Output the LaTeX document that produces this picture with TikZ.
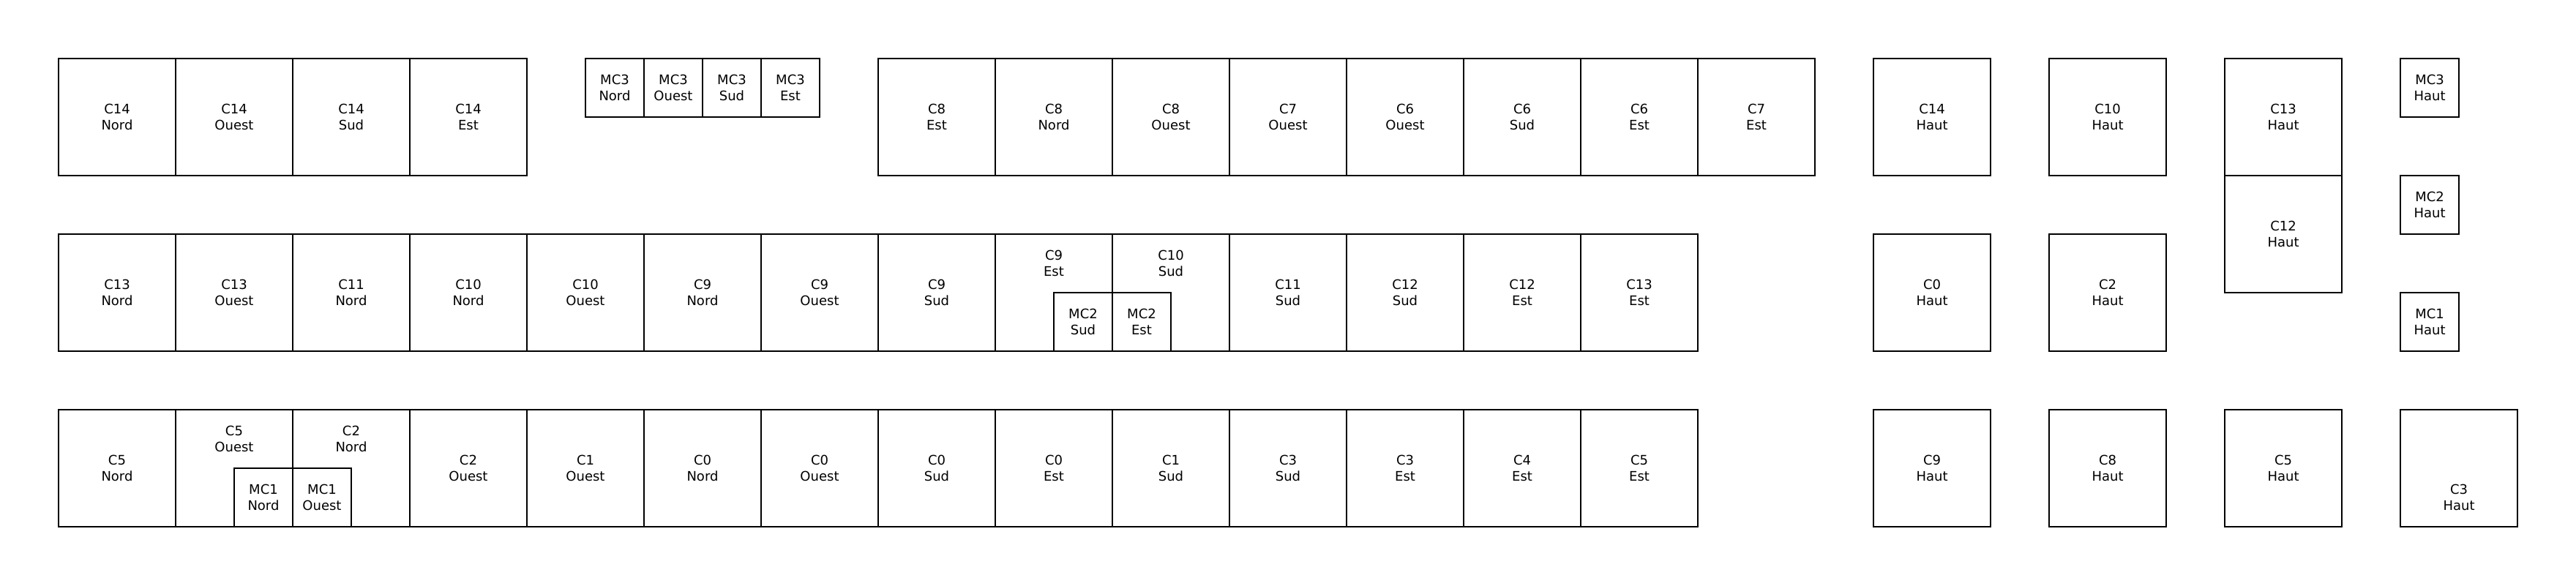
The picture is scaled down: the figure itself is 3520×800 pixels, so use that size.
\documentclass[tikz,border=0pt]{standalone}
\usepackage{fontspec}
\setmainfont{DejaVu Sans}
\newcommand{\lblfont}{\fontsize{9}{10.8}\selectfont}
\begin{document}
\begin{tikzpicture}[x=0.5pt,y=-0.5pt,
  big/.style={draw, line width=0.6pt, minimum width=80pt, minimum height=80pt, inner sep=0pt, align=center, font=\lblfont},
  small/.style={draw, line width=0.6pt, minimum width=40pt, minimum height=40pt, inner sep=0pt, align=center, font=\lblfont},
  tall/.style={draw, line width=0.6pt, minimum width=80pt, minimum height=80pt, inner sep=0pt},
  txt/.style={inner sep=0pt, align=center, font=\lblfont}]
\useasboundingbox (0,0) rectangle (3520,800);
% Row 1 left
\foreach \nm/\x/\t in {r1a/160/{C14\\Nord}, r1b/320/{C14\\Ouest}, r1c/480/{C14\\Sud}, r1d/640/{C14\\Est}}
  \node[big] (\nm) at (\x,160) {\t};
% MC3
\foreach \nm/\x/\t in {mca/840/{MC3\\Nord}, mcb/920/{MC3\\Ouest}, mcc/1000/{MC3\\Sud}, mcd/1080/{MC3\\Est}}
  \node[small] (\nm) at (\x,120) {\t};
% Row 1 right
\foreach \nm/\x/\t in {r1e/1280/{C8\\Est}, r1f/1440/{C8\\Nord}, r1g/1600/{C8\\Ouest}, r1h/1760/{C7\\Ouest}, r1i/1920/{C6\\Ouest}, r1j/2080/{C6\\Sud}, r1k/2240/{C6\\Est}, r1l/2400/{C7\\Est}}
  \node[big] (\nm) at (\x,160) {\t};
% Row 2
\foreach \nm/\x/\t in {r2a/160/{C13\\Nord}, r2b/320/{C13\\Ouest}, r2c/480/{C11\\Nord}, r2d/640/{C10\\Nord}, r2e/800/{C10\\Ouest}, r2f/960/{C9\\Nord}, r2g/1120/{C9\\Ouest}, r2h/1280/{C9\\Sud}, r2k/1760/{C11\\Sud}, r2l/1920/{C12\\Sud}, r2m/2080/{C12\\Est}, r2n/2240/{C13\\Est}}
  \node[big] (\nm) at (\x,400) {\t};
\node[tall] (r2i) at (1440,400) {};
\node[tall] (r2j) at (1600,400) {};
\node[txt] (r2it) at (1440,360) {C9\\Est};
\node[txt] (r2jt) at (1600,360) {C10\\Sud};
\node[small] (mc2s) at (1480,440) {MC2\\Sud};
\node[small] (mc2e) at (1560,440) {MC2\\Est};
% Row 3
\foreach \nm/\x/\t in {r3a/160/{C5\\Nord}, r3d/640/{C2\\Ouest}, r3e/800/{C1\\Ouest}, r3f/960/{C0\\Nord}, r3g/1120/{C0\\Ouest}, r3h/1280/{C0\\Sud}, r3i/1440/{C0\\Est}, r3j/1600/{C1\\Sud}, r3k/1760/{C3\\Sud}, r3l/1920/{C3\\Est}, r3m/2080/{C4\\Est}, r3n/2240/{C5\\Est}}
  \node[big] (\nm) at (\x,640) {\t};
\node[tall] (r3b) at (320,640) {};
\node[tall] (r3c) at (480,640) {};
\node[txt] (r3bt) at (320,600) {C5\\Ouest};
\node[txt] (r3ct) at (480,600) {C2\\Nord};
\node[small] (mc1n) at (360,680) {MC1\\Nord};
\node[small] (mc1o) at (440,680) {MC1\\Ouest};
% Haut
\node[big] (h14) at (2640,160) {C14\\Haut};
\node[big] (h10) at (2880,160) {C10\\Haut};
\node[big] (h13) at (3120,160) {C13\\Haut};
\node[small] (hm3) at (3320,120) {MC3\\Haut};
\node[big] (h0) at (2640,400) {C0\\Haut};
\node[big] (h2) at (2880,400) {C2\\Haut};
\node[big] (h12) at (3120,320) {C12\\Haut};
\node[small] (hm2) at (3320,280) {MC2\\Haut};
\node[small] (hm1) at (3320,440) {MC1\\Haut};
\node[big] (h9) at (2640,640) {C9\\Haut};
\node[big] (h8) at (2880,640) {C8\\Haut};
\node[big] (h5) at (3120,640) {C5\\Haut};
\node[tall] (h3) at (3360,640) {};
\node[txt] (h3t) at (3360,680) {C3\\Haut};
\end{tikzpicture}
\end{document}
